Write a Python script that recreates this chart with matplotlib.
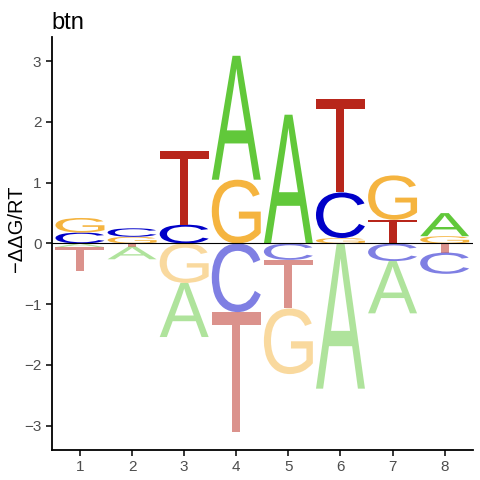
import matplotlib
matplotlib.use("Agg")
import matplotlib.pyplot as plt
import numpy as np
from matplotlib.textpath import TextPath
from matplotlib.patches import PathPatch
from matplotlib.font_manager import FontProperties, findfont
from matplotlib.transforms import Affine2D

plt.rcParams['font.family'] = ['Liberation Sans', 'DejaVu Sans']

# energy (-ddG/RT) per base at each position
positions = [1, 2, 3, 4, 5, 6, 7, 8]
energy_A = [-0.06, -0.21, -0.89, 2.04, 2.12, -2.39, -0.86, 0.38]
energy_C = [0.18, 0.14, 0.31, -1.13, -0.27, 0.75, -0.29, -0.35]
energy_G = [0.24, 0.11, -0.65, 1.05, -1.08, 0.09, 0.73, 0.12]
energy_T = [-0.39, -0.05, 1.21, -1.97, -0.80, 1.54, 0.39, -0.15]

bases = ['A', 'C', 'G', 'T']
energies = {'A': energy_A, 'C': energy_C, 'G': energy_G, 'T': energy_T}
colors = {'A': '#61C83A', 'C': '#0000C8', 'G': '#F5B43F', 'T': '#B8261B'}

font = FontProperties(fname=findfont(FontProperties(family='Liberation Sans')))
letter_width = 0.94


def draw_letter(ax, letter, x, y0, height, color, alpha):
    tp = TextPath((0, 0), letter, size=1, prop=font)
    ext = tp.get_extents()
    tr = (Affine2D()
          .translate(-ext.x0, -ext.y0)
          .scale(letter_width / ext.width, height / ext.height)
          .translate(x - letter_width / 2, y0))
    patch = PathPatch(tr.transform_path(tp), facecolor=color, edgecolor='none',
                      alpha=alpha, lw=0)
    ax.add_patch(patch)


fig = plt.figure(figsize=(4.8, 4.8), dpi=100)
ax = fig.add_axes([0.108, 0.0625, 0.877, 0.8605])

for i, pos in enumerate(positions):
    vals = [(b, energies[b][i]) for b in bases]
    # positive stack, smallest next to zero
    up = sorted([v for v in vals if v[1] > 0], key=lambda v: v[1])
    base_y = 0.0
    for b, v in up:
        draw_letter(ax, b, pos, base_y, v, colors[b], 1.0)
        base_y += v
    # negative stack, faded
    down = sorted([v for v in vals if v[1] < 0], key=lambda v: -v[1])
    base_y = 0.0
    for b, v in down:
        draw_letter(ax, b, pos, base_y + v, -v, colors[b], 0.5)
        base_y += v

ax.axhline(0, color='black', lw=0.8)
ax.set_xlim(0.46, 8.54)
ax.set_ylim(-3.4, 3.4)
ax.set_xticks(positions)
ax.set_yticks([-3, -2, -1, 0, 1, 2, 3])
ax.tick_params(labelsize=11, labelcolor='#4D4D4D', length=4, width=1.1, color='black')
for s in ['top', 'right']:
    ax.spines[s].set_visible(False)
for s in ['left', 'bottom']:
    ax.spines[s].set_linewidth(1.3)
ax.set_ylabel('\u2212\u0394\u0394G/RT', fontsize=14.5, ha='center', va='center')
ax.yaxis.set_label_coords(-0.085, 0.536)
ax.set_title('btn', loc='left', fontsize=17, pad=6)

fig.savefig('out.png', dpi=100)
